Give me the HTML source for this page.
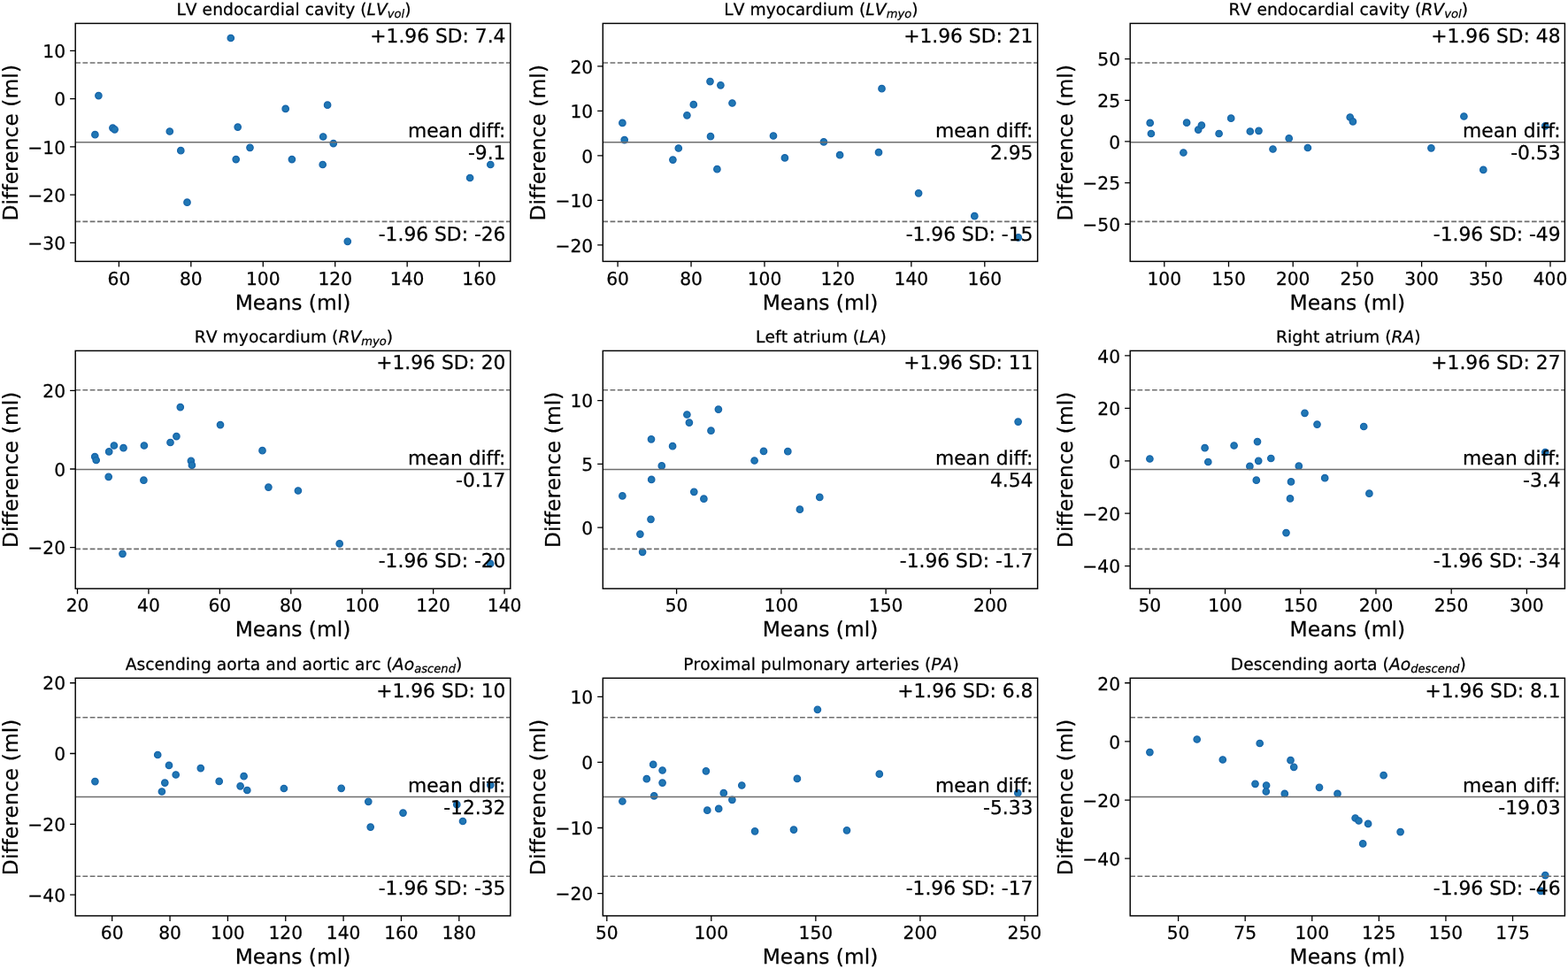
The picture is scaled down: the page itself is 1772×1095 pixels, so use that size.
<!DOCTYPE html><html><head><meta charset="utf-8"><style>html,body{margin:0;padding:0;background:#fff;width:1772px;height:1095px;overflow:hidden}svg{display:block}text{font-family:"DejaVu Sans","Liberation Sans",sans-serif;fill:#000;stroke:#000;stroke-width:0.25px;font-variant-ligatures:none;text-rendering:geometricPrecision}.nk{font-kerning:none;letter-spacing:0.04px}</style></head><body>
<svg width="1772" height="1095" viewBox="0 0 1772 1095">
<rect width="1772" height="1095" fill="#fff"/>
<defs><clipPath id="c0"><rect x="85.2" y="26.45" width="491.6" height="268.95"/></clipPath><clipPath id="c1"><rect x="681.3" y="26.45" width="491.3" height="268.95"/></clipPath><clipPath id="c2"><rect x="1277.2" y="26.45" width="491.2" height="268.95"/></clipPath><clipPath id="c3"><rect x="85.2" y="396.4" width="491.6" height="268.8"/></clipPath><clipPath id="c4"><rect x="681.3" y="396.4" width="491.3" height="268.8"/></clipPath><clipPath id="c5"><rect x="1277.2" y="396.4" width="491.2" height="268.8"/></clipPath><clipPath id="c6"><rect x="85.2" y="766.3" width="491.6" height="268.6"/></clipPath><clipPath id="c7"><rect x="681.3" y="766.3" width="491.3" height="268.6"/></clipPath><clipPath id="c8"><rect x="1277.2" y="766.3" width="491.2" height="268.6"/></clipPath></defs>
<g clip-path="url(#c0)">
<g fill="#2077b4" stroke="#1866ab" stroke-width="1.4">
<circle cx="260.8" cy="43" r="3.65"/>
<circle cx="111.4" cy="108.1" r="3.65"/>
<circle cx="107.4" cy="152.2" r="3.65"/>
<circle cx="127.4" cy="144.6" r="3.65"/>
<circle cx="129.6" cy="146.3" r="3.65"/>
<circle cx="191.8" cy="148.5" r="3.65"/>
<circle cx="204.3" cy="170.2" r="3.65"/>
<circle cx="211.5" cy="228.7" r="3.65"/>
<circle cx="268.7" cy="143.6" r="3.65"/>
<circle cx="266.7" cy="180.1" r="3.65"/>
<circle cx="282.5" cy="166.8" r="3.65"/>
<circle cx="322.7" cy="122.9" r="3.65"/>
<circle cx="329.9" cy="180.1" r="3.65"/>
<circle cx="370.1" cy="118.7" r="3.65"/>
<circle cx="365.2" cy="154.5" r="3.65"/>
<circle cx="376.8" cy="162.1" r="3.65"/>
<circle cx="364.7" cy="186" r="3.65"/>
<circle cx="392.8" cy="272.8" r="3.65"/>
<circle cx="531.1" cy="201" r="3.65"/>
<circle cx="554.3" cy="186" r="3.65"/>
</g>
<path d="M85.2 160.67H576.8" stroke="#6e6e6e" stroke-width="1.56" fill="none"/>
<path d="M85.2 71H576.8M85.2 250.4H576.8" stroke="#6e6e6e" stroke-width="1.56" stroke-dasharray="5.76 2.49" fill="none"/>
</g>
<rect x="85.2" y="26.45" width="491.6" height="268.95" fill="none" stroke="#000" stroke-width="1.45"/>
<path d="M134.4 295.4v6.1M215.84 295.4v6.1M297.28 295.4v6.1M378.72 295.4v6.1M460.16 295.4v6.1M541.6 295.4v6.1M85.2 57.35h-6.1M85.2 111.6h-6.1M85.2 165.85h-6.1M85.2 220.1h-6.1M85.2 274.35h-6.1" stroke="#000" stroke-width="1.3" fill="none"/>
<g font-size="20.24" text-anchor="middle">
<text x="134.4" y="321.76">60</text>
<text x="215.84" y="321.76">80</text>
<text x="297.28" y="321.76">100</text>
<text x="378.72" y="321.76">120</text>
<text x="460.16" y="321.76">140</text>
<text x="541.6" y="321.76">160</text>
</g>
<g font-size="20.24" text-anchor="end">
<text x="74.07" y="65.11">10</text>
<text x="74.07" y="119.36">0</text>
<text x="74.07" y="173.61">−10</text>
<text x="74.07" y="227.86">−20</text>
<text x="74.07" y="282.11">−30</text>
</g>
<text font-size="23.35" text-anchor="middle" x="331" y="349.7">Means (ml)</text>
<text font-size="23.35" text-anchor="middle" style="letter-spacing:0.067px" transform="translate(19.7 161.2) rotate(-90)">Difference (ml)</text>
<g font-size="21.79" text-anchor="end">
<text x="571.48" y="47.97">+1.96 SD: 7.4</text>
<text x="571.48" y="154.9">mean diff:</text>
<text x="571.48" y="179.98">-9.1</text>
<text x="571.48" y="271.7">-1.96 SD: -26</text>
</g>
<text class="nk" font-size="18.68" text-anchor="middle" x="332" y="16.7"><tspan>LV endocardial cavity (</tspan><tspan font-style="italic">LV</tspan><tspan font-style="italic" font-size="13.08" dy="3.1">vol</tspan><tspan font-style="normal" font-size="18.68" dy="-3.1">)</tspan></text>
<g clip-path="url(#c1)">
<g fill="#2077b4" stroke="#1866ab" stroke-width="1.4">
<circle cx="703.4" cy="138.9" r="3.65"/>
<circle cx="705.7" cy="158.1" r="3.65"/>
<circle cx="760.4" cy="180.6" r="3.65"/>
<circle cx="766.8" cy="167.5" r="3.65"/>
<circle cx="776.4" cy="130.3" r="3.65"/>
<circle cx="783.8" cy="118.2" r="3.65"/>
<circle cx="802.5" cy="92.1" r="3.65"/>
<circle cx="814.4" cy="96.3" r="3.65"/>
<circle cx="827.5" cy="116.5" r="3.65"/>
<circle cx="803" cy="154.2" r="3.65"/>
<circle cx="810.4" cy="191.2" r="3.65"/>
<circle cx="874" cy="153.5" r="3.65"/>
<circle cx="886.9" cy="178.4" r="3.65"/>
<circle cx="930.9" cy="160.4" r="3.65"/>
<circle cx="949.1" cy="175.2" r="3.65"/>
<circle cx="996.5" cy="100.2" r="3.65"/>
<circle cx="993" cy="172.2" r="3.65"/>
<circle cx="1038.1" cy="218.3" r="3.65"/>
<circle cx="1101.3" cy="244.2" r="3.65"/>
<circle cx="1150.8" cy="268.4" r="3.65"/>
</g>
<path d="M681.3 160.67H1172.6" stroke="#6e6e6e" stroke-width="1.56" fill="none"/>
<path d="M681.3 71H1172.6M681.3 250.4H1172.6" stroke="#6e6e6e" stroke-width="1.56" stroke-dasharray="5.76 2.49" fill="none"/>
</g>
<rect x="681.3" y="26.45" width="491.3" height="268.95" fill="none" stroke="#000" stroke-width="1.45"/>
<path d="M698.1 295.4v6.1M781.04 295.4v6.1M863.98 295.4v6.1M946.92 295.4v6.1M1029.86 295.4v6.1M1112.8 295.4v6.1M681.3 74.95h-6.1M681.3 125.45h-6.1M681.3 175.95h-6.1M681.3 226.45h-6.1M681.3 276.95h-6.1" stroke="#000" stroke-width="1.3" fill="none"/>
<g font-size="20.24" text-anchor="middle">
<text x="698.1" y="321.76">60</text>
<text x="781.04" y="321.76">80</text>
<text x="863.98" y="321.76">100</text>
<text x="946.92" y="321.76">120</text>
<text x="1029.86" y="321.76">140</text>
<text x="1112.8" y="321.76">160</text>
</g>
<g font-size="20.24" text-anchor="end">
<text x="670.17" y="82.71">20</text>
<text x="670.17" y="133.21">10</text>
<text x="670.17" y="183.71">0</text>
<text x="670.17" y="234.21">−10</text>
<text x="670.17" y="284.71">−20</text>
</g>
<text font-size="23.35" text-anchor="middle" x="926.95" y="349.7">Means (ml)</text>
<text font-size="23.35" text-anchor="middle" style="letter-spacing:0.067px" transform="translate(615.8 161.2) rotate(-90)">Difference (ml)</text>
<g font-size="21.79" text-anchor="end">
<text x="1167.44" y="47.97">+1.96 SD: 21</text>
<text x="1167.44" y="154.9">mean diff:</text>
<text x="1167.44" y="179.98">2.95</text>
<text x="1167.44" y="271.7">-1.96 SD: -15</text>
</g>
<text class="nk" font-size="18.68" text-anchor="middle" x="927.95" y="16.7"><tspan>LV myocardium (</tspan><tspan font-style="italic">LV</tspan><tspan font-style="italic" font-size="13.08" dy="3.1">myo</tspan><tspan font-style="normal" font-size="18.68" dy="-3.1">)</tspan></text>
<g clip-path="url(#c2)">
<g fill="#2077b4" stroke="#1866ab" stroke-width="1.4">
<circle cx="1299.7" cy="138.9" r="3.65"/>
<circle cx="1300.9" cy="151" r="3.65"/>
<circle cx="1337.4" cy="172.5" r="3.65"/>
<circle cx="1341.1" cy="138.7" r="3.65"/>
<circle cx="1354.2" cy="146.6" r="3.65"/>
<circle cx="1357.9" cy="141.6" r="3.65"/>
<circle cx="1377.6" cy="151" r="3.65"/>
<circle cx="1391.2" cy="133.7" r="3.65"/>
<circle cx="1412.8" cy="148.5" r="3.65"/>
<circle cx="1422.5" cy="147.8" r="3.65"/>
<circle cx="1438.5" cy="168.5" r="3.65"/>
<circle cx="1456.7" cy="156.4" r="3.65"/>
<circle cx="1477.9" cy="167" r="3.65"/>
<circle cx="1525.7" cy="132.5" r="3.65"/>
<circle cx="1528.9" cy="137.4" r="3.65"/>
<circle cx="1617.4" cy="167.3" r="3.65"/>
<circle cx="1654.4" cy="131.5" r="3.65"/>
<circle cx="1676.3" cy="191.9" r="3.65"/>
<circle cx="1746.3" cy="142.4" r="3.65"/>
</g>
<path d="M1277.2 160.67H1768.4" stroke="#6e6e6e" stroke-width="1.56" fill="none"/>
<path d="M1277.2 71H1768.4M1277.2 250.4H1768.4" stroke="#6e6e6e" stroke-width="1.56" stroke-dasharray="5.76 2.49" fill="none"/>
</g>
<rect x="1277.2" y="26.45" width="491.2" height="268.95" fill="none" stroke="#000" stroke-width="1.45"/>
<path d="M1315.8 295.4v6.1M1388.5 295.4v6.1M1461.2 295.4v6.1M1533.9 295.4v6.1M1606.6 295.4v6.1M1679.3 295.4v6.1M1752 295.4v6.1M1277.2 66.67h-6.1M1277.2 113.32h-6.1M1277.2 159.97h-6.1M1277.2 206.62h-6.1M1277.2 253.27h-6.1" stroke="#000" stroke-width="1.3" fill="none"/>
<g font-size="20.24" text-anchor="middle">
<text x="1315.8" y="321.76">100</text>
<text x="1388.5" y="321.76">150</text>
<text x="1461.2" y="321.76">200</text>
<text x="1533.9" y="321.76">250</text>
<text x="1606.6" y="321.76">300</text>
<text x="1679.3" y="321.76">350</text>
<text x="1752" y="321.76">400</text>
</g>
<g font-size="20.24" text-anchor="end">
<text x="1266.07" y="74.43">50</text>
<text x="1266.07" y="121.08">25</text>
<text x="1266.07" y="167.73">0</text>
<text x="1266.07" y="214.38">−25</text>
<text x="1266.07" y="261.03">−50</text>
</g>
<text font-size="23.35" text-anchor="middle" x="1522.8" y="349.7">Means (ml)</text>
<text font-size="23.35" text-anchor="middle" style="letter-spacing:0.067px" transform="translate(1211.7 161.2) rotate(-90)">Difference (ml)</text>
<g font-size="21.79" text-anchor="end">
<text x="1763.59" y="47.97">+1.96 SD: 48</text>
<text x="1763.59" y="154.9">mean diff:</text>
<text x="1763.59" y="179.98">-0.53</text>
<text x="1763.59" y="271.7">-1.96 SD: -49</text>
</g>
<text class="nk" font-size="18.68" text-anchor="middle" x="1523.8" y="16.7"><tspan>RV endocardial cavity (</tspan><tspan font-style="italic">RV</tspan><tspan font-style="italic" font-size="13.08" dy="3.1">vol</tspan><tspan font-style="normal" font-size="18.68" dy="-3.1">)</tspan></text>
<g clip-path="url(#c3)">
<g fill="#2077b4" stroke="#1866ab" stroke-width="1.4">
<circle cx="107.2" cy="516.1" r="3.65"/>
<circle cx="108.7" cy="520" r="3.65"/>
<circle cx="122.7" cy="538.8" r="3.65"/>
<circle cx="123.2" cy="510.4" r="3.65"/>
<circle cx="128.9" cy="503.5" r="3.65"/>
<circle cx="139.5" cy="506.2" r="3.65"/>
<circle cx="162.9" cy="503.5" r="3.65"/>
<circle cx="162.4" cy="542.7" r="3.65"/>
<circle cx="138.5" cy="625.8" r="3.65"/>
<circle cx="192.5" cy="500" r="3.65"/>
<circle cx="199.4" cy="493.1" r="3.65"/>
<circle cx="203.8" cy="460.1" r="3.65"/>
<circle cx="215.9" cy="520.8" r="3.65"/>
<circle cx="216.9" cy="525.7" r="3.65"/>
<circle cx="249" cy="480.1" r="3.65"/>
<circle cx="296.5" cy="509.2" r="3.65"/>
<circle cx="303.4" cy="550.6" r="3.65"/>
<circle cx="336.9" cy="554.5" r="3.65"/>
<circle cx="383.7" cy="614.4" r="3.65"/>
<circle cx="554.1" cy="636.9" r="3.65"/>
</g>
<path d="M85.2 530.52H576.8" stroke="#6e6e6e" stroke-width="1.56" fill="none"/>
<path d="M85.2 440.8H576.8M85.2 620.38H576.8" stroke="#6e6e6e" stroke-width="1.56" stroke-dasharray="5.76 2.49" fill="none"/>
</g>
<rect x="85.2" y="396.4" width="491.6" height="268.8" fill="none" stroke="#000" stroke-width="1.45"/>
<path d="M87.5 665.2v6.1M167.93 665.2v6.1M248.37 665.2v6.1M328.8 665.2v6.1M409.24 665.2v6.1M489.67 665.2v6.1M570.1 665.2v6.1M85.2 441.38h-6.1M85.2 530h-6.1M85.2 618.62h-6.1" stroke="#000" stroke-width="1.3" fill="none"/>
<g font-size="20.24" text-anchor="middle">
<text x="87.5" y="691.46">20</text>
<text x="167.93" y="691.46">40</text>
<text x="248.37" y="691.46">60</text>
<text x="328.8" y="691.46">80</text>
<text x="409.24" y="691.46">100</text>
<text x="489.67" y="691.46">120</text>
<text x="570.1" y="691.46">140</text>
</g>
<g font-size="20.24" text-anchor="end">
<text x="74.07" y="449.14">20</text>
<text x="74.07" y="537.76">0</text>
<text x="74.07" y="626.38">−20</text>
</g>
<text font-size="23.35" text-anchor="middle" x="331" y="719.4">Means (ml)</text>
<text font-size="23.35" text-anchor="middle" style="letter-spacing:0.067px" transform="translate(19.7 530.8) rotate(-90)">Difference (ml)</text>
<g font-size="21.79" text-anchor="end">
<text x="571.48" y="417.49">+1.96 SD: 20</text>
<text x="571.48" y="524.5">mean diff:</text>
<text x="571.48" y="549.58">-0.17</text>
<text x="571.48" y="641.4">-1.96 SD: -20</text>
</g>
<text class="nk" font-size="18.68" text-anchor="middle" x="332" y="386.75"><tspan>RV myocardium (</tspan><tspan font-style="italic">RV</tspan><tspan font-style="italic" font-size="13.08" dy="3.1">myo</tspan><tspan font-style="normal" font-size="18.68" dy="-3.1">)</tspan></text>
<g clip-path="url(#c4)">
<g fill="#2077b4" stroke="#1866ab" stroke-width="1.4">
<circle cx="703.4" cy="560.4" r="3.65"/>
<circle cx="723.4" cy="603.6" r="3.65"/>
<circle cx="726.1" cy="623.8" r="3.65"/>
<circle cx="735.5" cy="586.8" r="3.65"/>
<circle cx="736" cy="496.3" r="3.65"/>
<circle cx="736.2" cy="541.9" r="3.65"/>
<circle cx="747.8" cy="526.4" r="3.65"/>
<circle cx="760.1" cy="504.2" r="3.65"/>
<circle cx="776.4" cy="468.5" r="3.65"/>
<circle cx="778.9" cy="477.6" r="3.65"/>
<circle cx="784.3" cy="555.8" r="3.65"/>
<circle cx="795.4" cy="563.7" r="3.65"/>
<circle cx="803.5" cy="486.7" r="3.65"/>
<circle cx="811.9" cy="462.6" r="3.65"/>
<circle cx="852.6" cy="520.5" r="3.65"/>
<circle cx="863" cy="509.9" r="3.65"/>
<circle cx="890.3" cy="510.2" r="3.65"/>
<circle cx="903.9" cy="575.7" r="3.65"/>
<circle cx="926.3" cy="561.9" r="3.65"/>
<circle cx="1150.6" cy="476.6" r="3.65"/>
</g>
<path d="M681.3 530.52H1172.6" stroke="#6e6e6e" stroke-width="1.56" fill="none"/>
<path d="M681.3 440.8H1172.6M681.3 620.38H1172.6" stroke="#6e6e6e" stroke-width="1.56" stroke-dasharray="5.76 2.49" fill="none"/>
</g>
<rect x="681.3" y="396.4" width="491.3" height="268.8" fill="none" stroke="#000" stroke-width="1.45"/>
<path d="M764.6 665.2v6.1M882.87 665.2v6.1M1001.13 665.2v6.1M1119.39 665.2v6.1M681.3 452.72h-6.1M681.3 524.44h-6.1M681.3 596.17h-6.1" stroke="#000" stroke-width="1.3" fill="none"/>
<g font-size="20.24" text-anchor="middle">
<text x="764.6" y="691.46">50</text>
<text x="882.87" y="691.46">100</text>
<text x="1001.13" y="691.46">150</text>
<text x="1119.39" y="691.46">200</text>
</g>
<g font-size="20.24" text-anchor="end">
<text x="670.17" y="460.48">10</text>
<text x="670.17" y="532.2">5</text>
<text x="670.17" y="603.93">0</text>
</g>
<text font-size="23.35" text-anchor="middle" x="926.95" y="719.4">Means (ml)</text>
<text font-size="23.35" text-anchor="middle" style="letter-spacing:0.067px" transform="translate(632.76 530.8) rotate(-90)">Difference (ml)</text>
<g font-size="21.79" text-anchor="end">
<text x="1167.44" y="417.49">+1.96 SD: 11</text>
<text x="1167.44" y="524.5">mean diff:</text>
<text x="1167.44" y="549.58">4.54</text>
<text x="1167.44" y="641.4">-1.96 SD: -1.7</text>
</g>
<text class="nk" font-size="18.68" text-anchor="middle" x="927.95" y="386.75"><tspan>Left atrium (</tspan><tspan font-style="italic">LA</tspan><tspan>)</tspan></text>
<g clip-path="url(#c5)">
<g fill="#2077b4" stroke="#1866ab" stroke-width="1.4">
<circle cx="1299.4" cy="518.5" r="3.65"/>
<circle cx="1361.6" cy="506.2" r="3.65"/>
<circle cx="1365.3" cy="522" r="3.65"/>
<circle cx="1394.6" cy="503.5" r="3.65"/>
<circle cx="1412.4" cy="526.9" r="3.65"/>
<circle cx="1421" cy="499.1" r="3.65"/>
<circle cx="1422.2" cy="520.8" r="3.65"/>
<circle cx="1419.8" cy="542.7" r="3.65"/>
<circle cx="1436.3" cy="518" r="3.65"/>
<circle cx="1459" cy="544.4" r="3.65"/>
<circle cx="1458" cy="563.4" r="3.65"/>
<circle cx="1453.5" cy="602.1" r="3.65"/>
<circle cx="1467.8" cy="526.7" r="3.65"/>
<circle cx="1474.5" cy="466.8" r="3.65"/>
<circle cx="1488.5" cy="479.6" r="3.65"/>
<circle cx="1497.2" cy="540.2" r="3.65"/>
<circle cx="1541.2" cy="482" r="3.65"/>
<circle cx="1547.4" cy="557.7" r="3.65"/>
<circle cx="1746.3" cy="511.1" r="3.65"/>
</g>
<path d="M1277.2 530.52H1768.4" stroke="#6e6e6e" stroke-width="1.56" fill="none"/>
<path d="M1277.2 440.8H1768.4M1277.2 620.38H1768.4" stroke="#6e6e6e" stroke-width="1.56" stroke-dasharray="5.76 2.49" fill="none"/>
</g>
<rect x="1277.2" y="396.4" width="491.2" height="268.8" fill="none" stroke="#000" stroke-width="1.45"/>
<path d="M1299.3 665.2v6.1M1384.52 665.2v6.1M1469.74 665.2v6.1M1554.96 665.2v6.1M1640.18 665.2v6.1M1725.4 665.2v6.1M1277.2 401.95h-6.1M1277.2 461.36h-6.1M1277.2 520.78h-6.1M1277.2 580.2h-6.1M1277.2 639.61h-6.1" stroke="#000" stroke-width="1.3" fill="none"/>
<g font-size="20.24" text-anchor="middle">
<text x="1299.3" y="691.46">50</text>
<text x="1384.52" y="691.46">100</text>
<text x="1469.74" y="691.46">150</text>
<text x="1554.96" y="691.46">200</text>
<text x="1640.18" y="691.46">250</text>
<text x="1725.4" y="691.46">300</text>
</g>
<g font-size="20.24" text-anchor="end">
<text x="1266.07" y="409.71">40</text>
<text x="1266.07" y="469.12">20</text>
<text x="1266.07" y="528.54">0</text>
<text x="1266.07" y="587.96">−20</text>
<text x="1266.07" y="647.37">−40</text>
</g>
<text font-size="23.35" text-anchor="middle" x="1522.8" y="719.4">Means (ml)</text>
<text font-size="23.35" text-anchor="middle" style="letter-spacing:0.067px" transform="translate(1211.7 530.8) rotate(-90)">Difference (ml)</text>
<g font-size="21.79" text-anchor="end">
<text x="1763.59" y="417.49">+1.96 SD: 27</text>
<text x="1763.59" y="524.5">mean diff:</text>
<text x="1763.59" y="549.58">-3.4</text>
<text x="1763.59" y="641.4">-1.96 SD: -34</text>
</g>
<text class="nk" font-size="18.68" text-anchor="middle" x="1523.8" y="386.75"><tspan>Right atrium (</tspan><tspan font-style="italic">RA</tspan><tspan>)</tspan></text>
<g clip-path="url(#c6)">
<g fill="#2077b4" stroke="#1866ab" stroke-width="1.4">
<circle cx="107.4" cy="883.1" r="3.65"/>
<circle cx="178.2" cy="853" r="3.65"/>
<circle cx="191" cy="864.9" r="3.65"/>
<circle cx="198.7" cy="875.5" r="3.65"/>
<circle cx="186.3" cy="884.6" r="3.65"/>
<circle cx="182.9" cy="894.5" r="3.65"/>
<circle cx="226.8" cy="868.1" r="3.65"/>
<circle cx="247.7" cy="882.9" r="3.65"/>
<circle cx="275.6" cy="877.2" r="3.65"/>
<circle cx="271.6" cy="888.3" r="3.65"/>
<circle cx="279.3" cy="893" r="3.65"/>
<circle cx="320.9" cy="891" r="3.65"/>
<circle cx="385.7" cy="890.8" r="3.65"/>
<circle cx="416.3" cy="905.8" r="3.65"/>
<circle cx="418.7" cy="934.6" r="3.65"/>
<circle cx="455.5" cy="918.6" r="3.65"/>
<circle cx="516.3" cy="909.2" r="3.65"/>
<circle cx="523" cy="928" r="3.65"/>
<circle cx="554.3" cy="887.1" r="3.65"/>
</g>
<path d="M85.2 900.52H576.8" stroke="#6e6e6e" stroke-width="1.56" fill="none"/>
<path d="M85.2 810.68H576.8M85.2 990.25H576.8" stroke="#6e6e6e" stroke-width="1.56" stroke-dasharray="5.76 2.49" fill="none"/>
</g>
<rect x="85.2" y="766.3" width="491.6" height="268.6" fill="none" stroke="#000" stroke-width="1.45"/>
<path d="M126.7 1034.9v6.1M192.05 1034.9v6.1M257.4 1034.9v6.1M322.75 1034.9v6.1M388.1 1034.9v6.1M453.45 1034.9v6.1M518.8 1034.9v6.1M85.2 771.73h-6.1M85.2 851.52h-6.1M85.2 931.31h-6.1M85.2 1011.11h-6.1" stroke="#000" stroke-width="1.3" fill="none"/>
<g font-size="20.24" text-anchor="middle">
<text x="126.7" y="1061.36">60</text>
<text x="192.05" y="1061.36">80</text>
<text x="257.4" y="1061.36">100</text>
<text x="322.75" y="1061.36">120</text>
<text x="388.1" y="1061.36">140</text>
<text x="453.45" y="1061.36">160</text>
<text x="518.8" y="1061.36">180</text>
</g>
<g font-size="20.24" text-anchor="end">
<text x="74.07" y="779.49">20</text>
<text x="74.07" y="859.28">0</text>
<text x="74.07" y="939.07">−20</text>
<text x="74.07" y="1018.87">−40</text>
</g>
<text font-size="23.35" text-anchor="middle" x="331" y="1089.3">Means (ml)</text>
<text font-size="23.35" text-anchor="middle" style="letter-spacing:0.067px" transform="translate(19.7 900.85) rotate(-90)">Difference (ml)</text>
<g font-size="21.79" text-anchor="end">
<text x="571.48" y="787.66">+1.96 SD: 10</text>
<text x="571.48" y="894.55">mean diff:</text>
<text x="571.48" y="919.63">-12.32</text>
<text x="571.48" y="1011.3">-1.96 SD: -35</text>
</g>
<text class="nk" font-size="18.68" text-anchor="middle" x="332" y="756.75"><tspan>Ascending aorta and aortic arc (</tspan><tspan font-style="italic">Ao</tspan><tspan font-style="italic" font-size="13.08" dy="3.1">ascend</tspan><tspan font-style="normal" font-size="18.68" dy="-3.1">)</tspan></text>
<g clip-path="url(#c7)">
<g fill="#2077b4" stroke="#1866ab" stroke-width="1.4">
<circle cx="703.4" cy="905.5" r="3.65"/>
<circle cx="730.8" cy="880.2" r="3.65"/>
<circle cx="738.2" cy="863.9" r="3.65"/>
<circle cx="739.2" cy="899.4" r="3.65"/>
<circle cx="748.6" cy="870.5" r="3.65"/>
<circle cx="748.6" cy="884.6" r="3.65"/>
<circle cx="797.9" cy="871.3" r="3.65"/>
<circle cx="799.3" cy="915.7" r="3.65"/>
<circle cx="812.2" cy="913.9" r="3.65"/>
<circle cx="817.8" cy="896.2" r="3.65"/>
<circle cx="827.4" cy="903.8" r="3.65"/>
<circle cx="838.3" cy="887.5" r="3.65"/>
<circle cx="853.1" cy="939.3" r="3.65"/>
<circle cx="897" cy="937.6" r="3.65"/>
<circle cx="900.9" cy="879.9" r="3.65"/>
<circle cx="923.9" cy="801.8" r="3.65"/>
<circle cx="957" cy="938.3" r="3.65"/>
<circle cx="993.8" cy="874.7" r="3.65"/>
<circle cx="1150.3" cy="896.2" r="3.65"/>
</g>
<path d="M681.3 900.52H1172.6" stroke="#6e6e6e" stroke-width="1.56" fill="none"/>
<path d="M681.3 810.68H1172.6M681.3 990.25H1172.6" stroke="#6e6e6e" stroke-width="1.56" stroke-dasharray="5.76 2.49" fill="none"/>
</g>
<rect x="681.3" y="766.3" width="491.3" height="268.6" fill="none" stroke="#000" stroke-width="1.45"/>
<path d="M685.8 1034.9v6.1M803.82 1034.9v6.1M921.85 1034.9v6.1M1039.88 1034.9v6.1M1157.9 1034.9v6.1M681.3 787.28h-6.1M681.3 861.39h-6.1M681.3 935.5h-6.1M681.3 1009.61h-6.1" stroke="#000" stroke-width="1.3" fill="none"/>
<g font-size="20.24" text-anchor="middle">
<text x="685.8" y="1061.36">50</text>
<text x="803.82" y="1061.36">100</text>
<text x="921.85" y="1061.36">150</text>
<text x="1039.88" y="1061.36">200</text>
<text x="1157.9" y="1061.36">250</text>
</g>
<g font-size="20.24" text-anchor="end">
<text x="670.17" y="795.04">10</text>
<text x="670.17" y="869.15">0</text>
<text x="670.17" y="943.26">−10</text>
<text x="670.17" y="1017.37">−20</text>
</g>
<text font-size="23.35" text-anchor="middle" x="926.95" y="1089.3">Means (ml)</text>
<text font-size="23.35" text-anchor="middle" style="letter-spacing:0.067px" transform="translate(615.8 900.85) rotate(-90)">Difference (ml)</text>
<g font-size="21.79" text-anchor="end">
<text x="1167.44" y="787.66">+1.96 SD: 6.8</text>
<text x="1167.44" y="894.55">mean diff:</text>
<text x="1167.44" y="919.63">-5.33</text>
<text x="1167.44" y="1011.3">-1.96 SD: -17</text>
</g>
<text class="nk" font-size="18.68" text-anchor="middle" x="927.95" y="756.75"><tspan>Proximal pulmonary arteries (</tspan><tspan font-style="italic">PA</tspan><tspan>)</tspan></text>
<g clip-path="url(#c8)">
<g fill="#2077b4" stroke="#1866ab" stroke-width="1.4">
<circle cx="1299.4" cy="850.1" r="3.65"/>
<circle cx="1352.7" cy="835.5" r="3.65"/>
<circle cx="1381.8" cy="858.5" r="3.65"/>
<circle cx="1418.5" cy="885.8" r="3.65"/>
<circle cx="1423.7" cy="840" r="3.65"/>
<circle cx="1431.1" cy="887.5" r="3.65"/>
<circle cx="1430.8" cy="894.5" r="3.65"/>
<circle cx="1451.8" cy="896.9" r="3.65"/>
<circle cx="1458.5" cy="859.2" r="3.65"/>
<circle cx="1462.2" cy="866.8" r="3.65"/>
<circle cx="1491" cy="889.8" r="3.65"/>
<circle cx="1511.5" cy="896.9" r="3.65"/>
<circle cx="1563.6" cy="876.2" r="3.65"/>
<circle cx="1531.6" cy="924.5" r="3.65"/>
<circle cx="1535.5" cy="927.5" r="3.65"/>
<circle cx="1546.1" cy="930.9" r="3.65"/>
<circle cx="1540.2" cy="953.4" r="3.65"/>
<circle cx="1582.6" cy="940.1" r="3.65"/>
<circle cx="1746.3" cy="989.1" r="3.65"/>
<circle cx="1741.4" cy="1006.9" r="3.65"/>
</g>
<path d="M1277.2 900.52H1768.4" stroke="#6e6e6e" stroke-width="1.56" fill="none"/>
<path d="M1277.2 810.68H1768.4M1277.2 990.25H1768.4" stroke="#6e6e6e" stroke-width="1.56" stroke-dasharray="5.76 2.49" fill="none"/>
</g>
<rect x="1277.2" y="766.3" width="491.2" height="268.6" fill="none" stroke="#000" stroke-width="1.45"/>
<path d="M1331.6 1034.9v6.1M1407.18 1034.9v6.1M1482.76 1034.9v6.1M1558.34 1034.9v6.1M1633.92 1034.9v6.1M1709.5 1034.9v6.1M1277.2 771.75h-6.1M1277.2 837.9h-6.1M1277.2 904.05h-6.1M1277.2 970.19h-6.1" stroke="#000" stroke-width="1.3" fill="none"/>
<g font-size="20.24" text-anchor="middle">
<text x="1331.6" y="1061.36">50</text>
<text x="1407.18" y="1061.36">75</text>
<text x="1482.76" y="1061.36">100</text>
<text x="1558.34" y="1061.36">125</text>
<text x="1633.92" y="1061.36">150</text>
<text x="1709.5" y="1061.36">175</text>
</g>
<g font-size="20.24" text-anchor="end">
<text x="1266.07" y="779.51">20</text>
<text x="1266.07" y="845.66">0</text>
<text x="1266.07" y="911.81">−20</text>
<text x="1266.07" y="977.95">−40</text>
</g>
<text font-size="23.35" text-anchor="middle" x="1522.8" y="1089.3">Means (ml)</text>
<text font-size="23.35" text-anchor="middle" style="letter-spacing:0.067px" transform="translate(1211.7 900.85) rotate(-90)">Difference (ml)</text>
<g font-size="21.79" text-anchor="end">
<text x="1763.59" y="787.66">+1.96 SD: 8.1</text>
<text x="1763.59" y="894.55">mean diff:</text>
<text x="1763.59" y="919.63">-19.03</text>
<text x="1763.59" y="1011.3">-1.96 SD: -46</text>
</g>
<text class="nk" font-size="18.68" text-anchor="middle" x="1523.8" y="756.75"><tspan>Descending aorta (</tspan><tspan font-style="italic">Ao</tspan><tspan font-style="italic" font-size="13.08" dy="3.1">descend</tspan><tspan font-style="normal" font-size="18.68" dy="-3.1">)</tspan></text>
</svg></body></html>
